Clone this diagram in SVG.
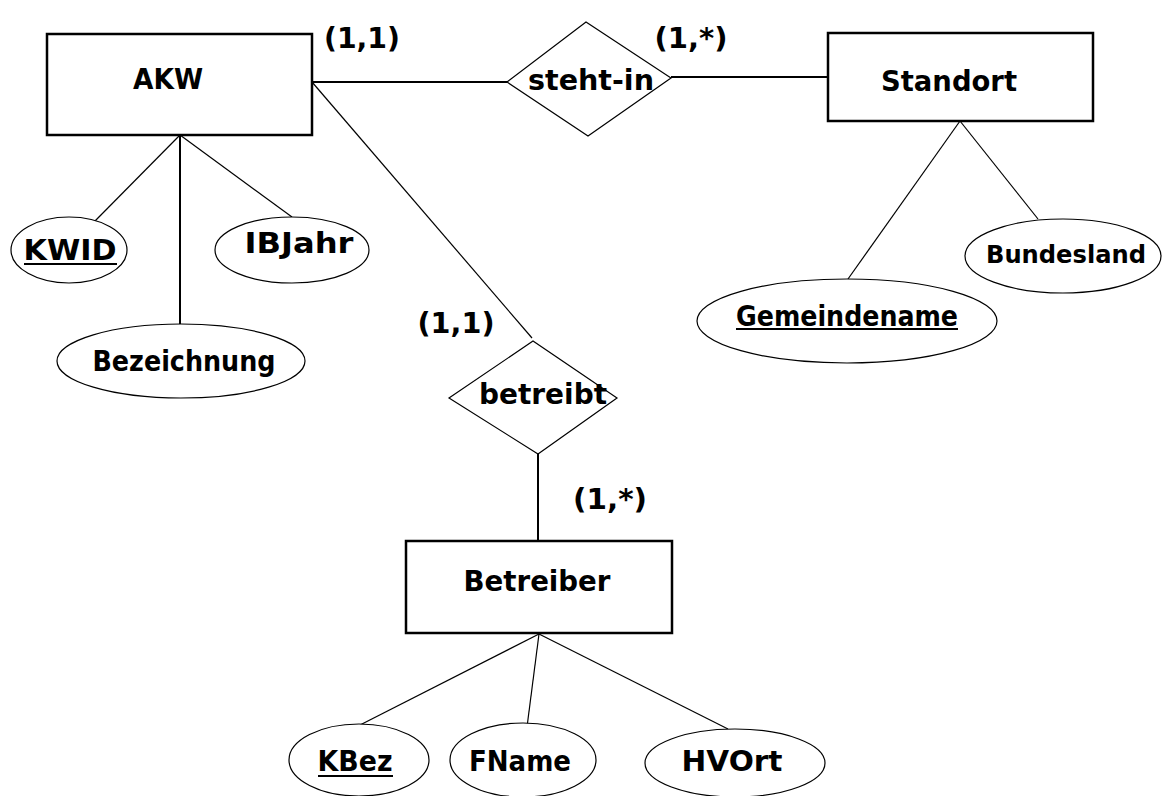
<svg xmlns="http://www.w3.org/2000/svg" width="1164" height="796" viewBox="0 0 1164 796">
<style>
.ent{fill:#fff;stroke:#000;stroke-width:2.5}
.rel{fill:#fff;stroke:#000;stroke-width:1.2}
.att{fill:#fff;stroke:#000;stroke-width:1.2}
.t{font-family:"Comic Sans MS","DejaVu Sans",sans-serif;font-weight:bold;font-size:28px;fill:#000}
.ul{stroke:#000;stroke-width:2.2}
.c line{stroke:#000;stroke-width:1.2}
.c line.k{stroke-width:2}
</style>
<rect width="1164" height="796" fill="#fff"/>
<g class="c" id="connectors">
<line class="k" x1="312" y1="82" x2="507" y2="82"/>
<line class="k" x1="671" y1="77" x2="828" y2="77"/>
<line x1="312" y1="82" x2="532" y2="338"/>
<line class="k" x1="538" y1="454" x2="538" y2="541"/>
<line x1="180" y1="135" x2="95" y2="221"/>
<line class="k" x1="180" y1="135" x2="180" y2="324"/>
<line x1="180" y1="135" x2="292" y2="217"/>
<line x1="960" y1="121" x2="848" y2="279"/>
<line x1="960" y1="121" x2="1038" y2="219"/>
<line x1="539" y1="634" x2="360" y2="725"/>
<line x1="539" y1="634" x2="527" y2="727"/>
<line x1="539" y1="634" x2="728" y2="729"/>
</g>
<g id="AKW"><rect class="ent" x="47" y="34" width="265" height="101"/><text class="t" x="168" y="89" text-anchor="middle" textLength="70" lengthAdjust="spacingAndGlyphs">AKW</text></g>
<g id="Standort"><rect class="ent" x="828" y="33" width="265" height="88"/><text class="t" x="949" y="91" text-anchor="middle" textLength="136" lengthAdjust="spacingAndGlyphs">Standort</text></g>
<g id="Betreiber"><rect class="ent" x="406" y="541" width="266" height="92"/><text class="t" x="537" y="591" text-anchor="middle" textLength="147" lengthAdjust="spacingAndGlyphs">Betreiber</text></g>
<g id="steht-in"><polygon class="rel" points="507,82 586,22 671,78 588,136"/><text class="t" x="591" y="90" text-anchor="middle" textLength="126" lengthAdjust="spacingAndGlyphs">steht-in</text></g>
<g id="betreibt"><polygon class="rel" points="449,398 533,341 617,398 538,454"/><text class="t" x="543" y="404" text-anchor="middle" textLength="128" lengthAdjust="spacingAndGlyphs">betreibt</text></g>
<g id="KWID"><ellipse class="att" cx="69" cy="250" rx="58" ry="33"/><text class="t" x="70" y="260" text-anchor="middle" textLength="93" lengthAdjust="spacingAndGlyphs">KWID</text><line class="ul" x1="24" y1="264" x2="117" y2="264"/></g>
<g id="IBJahr"><ellipse class="att" cx="292" cy="250" rx="77" ry="33"/><text class="t" x="299" y="253" text-anchor="middle" textLength="109" lengthAdjust="spacingAndGlyphs">IBJahr</text></g>
<g id="Bezeichnung"><ellipse class="att" cx="181" cy="361" rx="124" ry="37"/><text class="t" x="184" y="371" text-anchor="middle" textLength="183" lengthAdjust="spacingAndGlyphs">Bezeichnung</text></g>
<g id="Gemeindename"><ellipse class="att" cx="847" cy="321" rx="150" ry="42"/><text class="t" x="847" y="326" text-anchor="middle" textLength="222" lengthAdjust="spacingAndGlyphs">Gemeindename</text><line class="ul" x1="736" y1="329" x2="958" y2="329"/></g>
<g id="Bundesland"><ellipse class="att" cx="1063" cy="256" rx="98" ry="37"/><text class="t" x="1066" y="263" text-anchor="middle" style="font-size:24px" textLength="160" lengthAdjust="spacingAndGlyphs">Bundesland</text></g>
<g id="KBez"><ellipse class="att" cx="359" cy="760" rx="70" ry="36"/><text class="t" x="355" y="771" text-anchor="middle" textLength="75" lengthAdjust="spacingAndGlyphs">KBez</text><line class="ul" x1="318" y1="776" x2="393" y2="776"/></g>
<g id="FName"><ellipse class="att" cx="523" cy="760" rx="73" ry="37"/><text class="t" x="520" y="771" text-anchor="middle" textLength="102" lengthAdjust="spacingAndGlyphs">FName</text></g>
<g id="HVOrt"><ellipse class="att" cx="735" cy="763" rx="90" ry="34"/><text class="t" x="732" y="771" text-anchor="middle" textLength="101" lengthAdjust="spacingAndGlyphs">HVOrt</text></g>
<g id="labels">
<text class="t" x="362" y="48" text-anchor="middle" textLength="76" lengthAdjust="spacingAndGlyphs">(1,1)</text>
<text class="t" x="691" y="48" text-anchor="middle" textLength="73" lengthAdjust="spacingAndGlyphs">(1,*)</text>
<text class="t" x="456" y="333" text-anchor="middle" textLength="77" lengthAdjust="spacingAndGlyphs">(1,1)</text>
<text class="t" x="610" y="509" text-anchor="middle" textLength="74" lengthAdjust="spacingAndGlyphs">(1,*)</text>
</g>
</svg>
